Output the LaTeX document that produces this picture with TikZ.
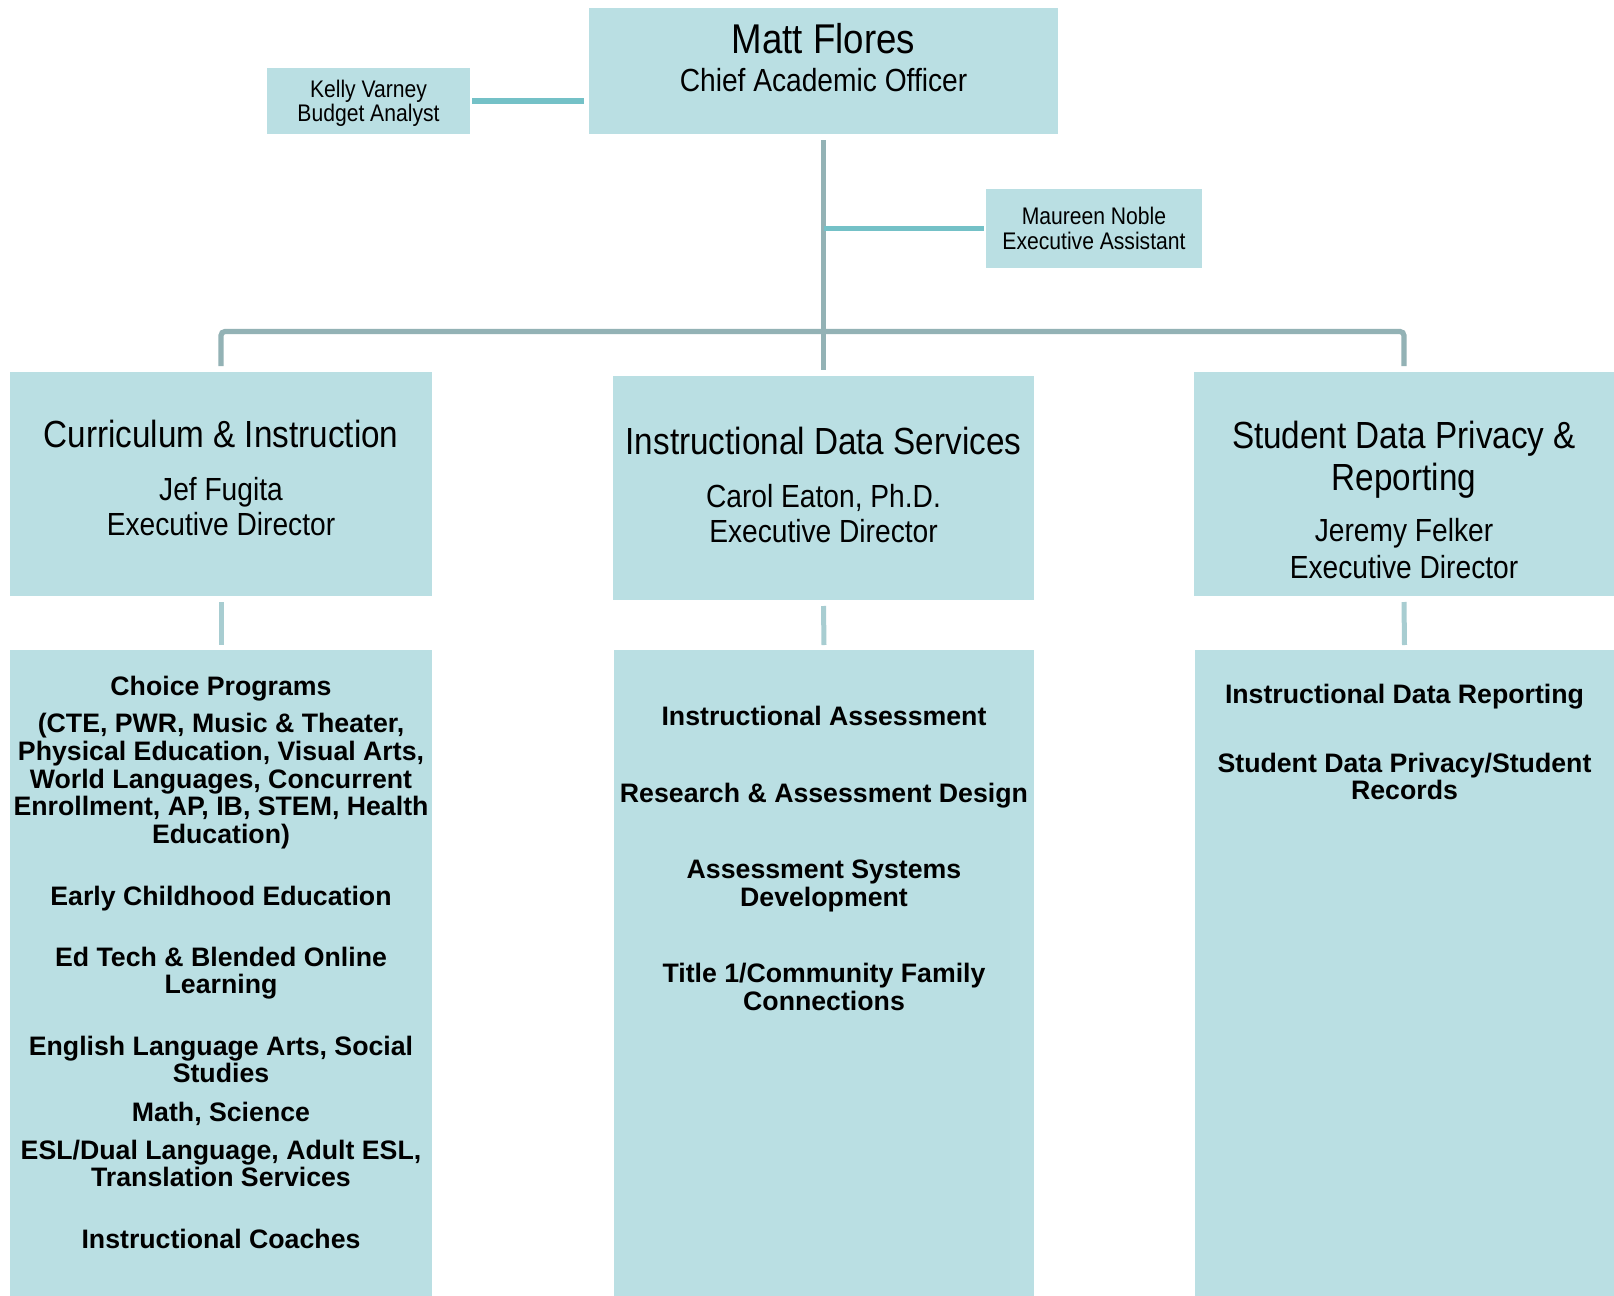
\documentclass[tikz,border=0pt]{standalone}
\usepackage{fontspec}
\setmainfont{Liberation Sans}
\newfontfamily\narf[FakeStretch=0.88]{Liberation Sans}
\definecolor{boxfill}{HTML}{BADFE3}
\definecolor{lineg}{HTML}{93B2B5}
\definecolor{teal}{HTML}{74C1C7}
\definecolor{subc}{HTML}{A8CDD1}
\tikzset{
  box/.style={fill=boxfill, draw=none, inner sep=0pt, outer sep=0pt},
  txt/.style={anchor=base, inner sep=0pt, outer sep=0pt, text=black},
  fbig/.style={txt, font=\narf\fontsize{20.8pt}{24pt}\selectfont},
  ftitle/.style={txt, font=\narf\fontsize{18.9pt}{22pt}\selectfont},
  fsub/.style={txt, font=\narf\fontsize{16pt}{19pt}\selectfont},
  fsmall/.style={txt, font=\narf\fontsize{12pt}{14pt}\selectfont},
  fitem/.style={txt, font=\bfseries\fontsize{13.35pt}{14pt}\selectfont},
  mainln/.style={draw=lineg, line width=2.6pt},
  asstln/.style={draw=teal, line width=2.7pt},
  subln/.style={draw=subc, line width=2.5pt}
}
\begin{document}
\begin{tikzpicture}[x=0.5pt,y=-0.5pt]
\useasboundingbox (0,0) rectangle (1614,1296);
\fill[white] (0,0) rectangle (1614,1296);

% boxes
\node[box, minimum width=234.5pt, minimum height=63pt] (matt) at (823.5,71) {};
\node[box, minimum width=101.5pt, minimum height=33pt] (kelly) at (368.5,101) {};
\node[box, minimum width=108pt, minimum height=39.5pt] (maureen) at (1094,228.5) {};
\node[box, minimum width=211pt, minimum height=112pt] (ci) at (221,484) {};
\node[box, minimum width=210.5pt, minimum height=112pt] (ids) at (823.5,488) {};
\node[box, minimum width=210pt, minimum height=112pt] (sdp) at (1404,484) {};
\node[box, minimum width=211pt, minimum height=323pt] (cil) at (221,973) {};
\node[box, minimum width=210pt, minimum height=323pt] (idsl) at (824,973) {};
\node[box, minimum width=209.5pt, minimum height=323pt] (sdpl) at (1404.5,973) {};

% connectors
\coordinate (hub) at (823.5,331.5);
\draw[mainln, rounded corners=2pt] ([yshift=3pt]ci.north) |- (hub) -| ([yshift=3pt]sdp.north);
\draw[mainln] ([yshift=-3pt]matt.south) -- ([yshift=3pt]ids.north);
\draw[asstln, shorten <=1pt, shorten >=2.5pt] (kelly.east) -- (kelly.east -| matt.west);
\draw[asstln, shorten >=1pt] (maureen.west -| matt.south) -- (maureen.west);
\draw[subln] ([yshift=-3pt]ci.south) -- ([yshift=2.5pt]cil.north);
\draw[subln] ([yshift=-3pt]ids.south) -- ([yshift=2.5pt]idsl.north);
\draw[subln] ([yshift=-3pt]sdp.south) -- ([yshift=2.5pt]sdpl.north);

% top texts
\node[fbig] (t1) at (823.5,53) {Matt Flores};
\node[fsub] (t2) at (823.5,91.7) {Chief Academic Officer};
\node[fsmall] (t3) at (368.5,97) {Kelly Varney};
\node[fsmall] (t4) at (368.5,121.5) {Budget Analyst};
\node[fsmall] (t5) at (1094,224) {Maureen Noble};
\node[fsmall] (t6) at (1094,249) {Executive Assistant};

% department headers
\node[ftitle] (c1) at (221,447) {Curriculum \& Instruction};
\node[fsub] (c2) at (221,500) {Jef Fugita};
\node[fsub] (c3) at (221,535.5) {Executive Director};
\node[ftitle] (d1) at (823.5,454) {Instructional Data Services};
\node[fsub] (d2) at (823.5,507) {Carol Eaton, Ph.D.};
\node[fsub] (d3) at (823.5,542.5) {Executive Director};
\node[ftitle] (s1) at (1404,448.3) {Student Data Privacy \&};
\node[ftitle] (s2) at (1404,490) {Reporting};
\node[fsub] (s3) at (1404,541.7) {Jeremy Felker};
\node[fsub] (s4) at (1404,578.3) {Executive Director};

% left list
\node[fitem] (l1) at (221,695) {Choice Programs};
\node[fitem] (l2) at (221,732.7) {(CTE, PWR, Music \& Theater,};
\node[fitem] (l3) at (221,760.7) {Physical Education, Visual Arts,};
\node[fitem] (l4) at (221,788.3) {World Languages, Concurrent};
\node[fitem] (l5) at (221,815.7) {Enrollment, AP, IB, STEM, Health};
\node[fitem] (l6) at (221,843.3) {Education)};
\node[fitem] (l7) at (221,905) {Early Childhood Education};
\node[fitem] (l8) at (221,966.7) {Ed Tech \& Blended Online};
\node[fitem] (l9) at (221,993.3) {Learning};
\node[fitem] (l10) at (221,1055) {English Language Arts, Social};
\node[fitem] (l11) at (221,1082.3) {Studies};
\node[fitem] (l12) at (221,1121.7) {Math, Science};
\node[fitem] (l13) at (221,1159.3) {ESL/Dual Language, Adult ESL,};
\node[fitem] (l14) at (221,1186.7) {Translation Services};
\node[fitem] (l15) at (221,1248.3) {Instructional Coaches};

% middle list
\node[fitem] (m1) at (824,725) {Instructional Assessment};
\node[fitem] (m2) at (824,802) {Research \& Assessment Design};
\node[fitem] (m3) at (824,878.5) {Assessment Systems};
\node[fitem] (m4) at (824,906) {Development};
\node[fitem] (m5) at (824,982.5) {Title 1/Community Family};
\node[fitem] (m6) at (824,1010.5) {Connections};

% right list
\node[fitem] (r1) at (1404.5,703.5) {Instructional Data Reporting};
\node[fitem] (r2) at (1404.5,772) {Student Data Privacy/Student};
\node[fitem] (r3) at (1404.5,799.5) {Records};
\end{tikzpicture}
\end{document}
